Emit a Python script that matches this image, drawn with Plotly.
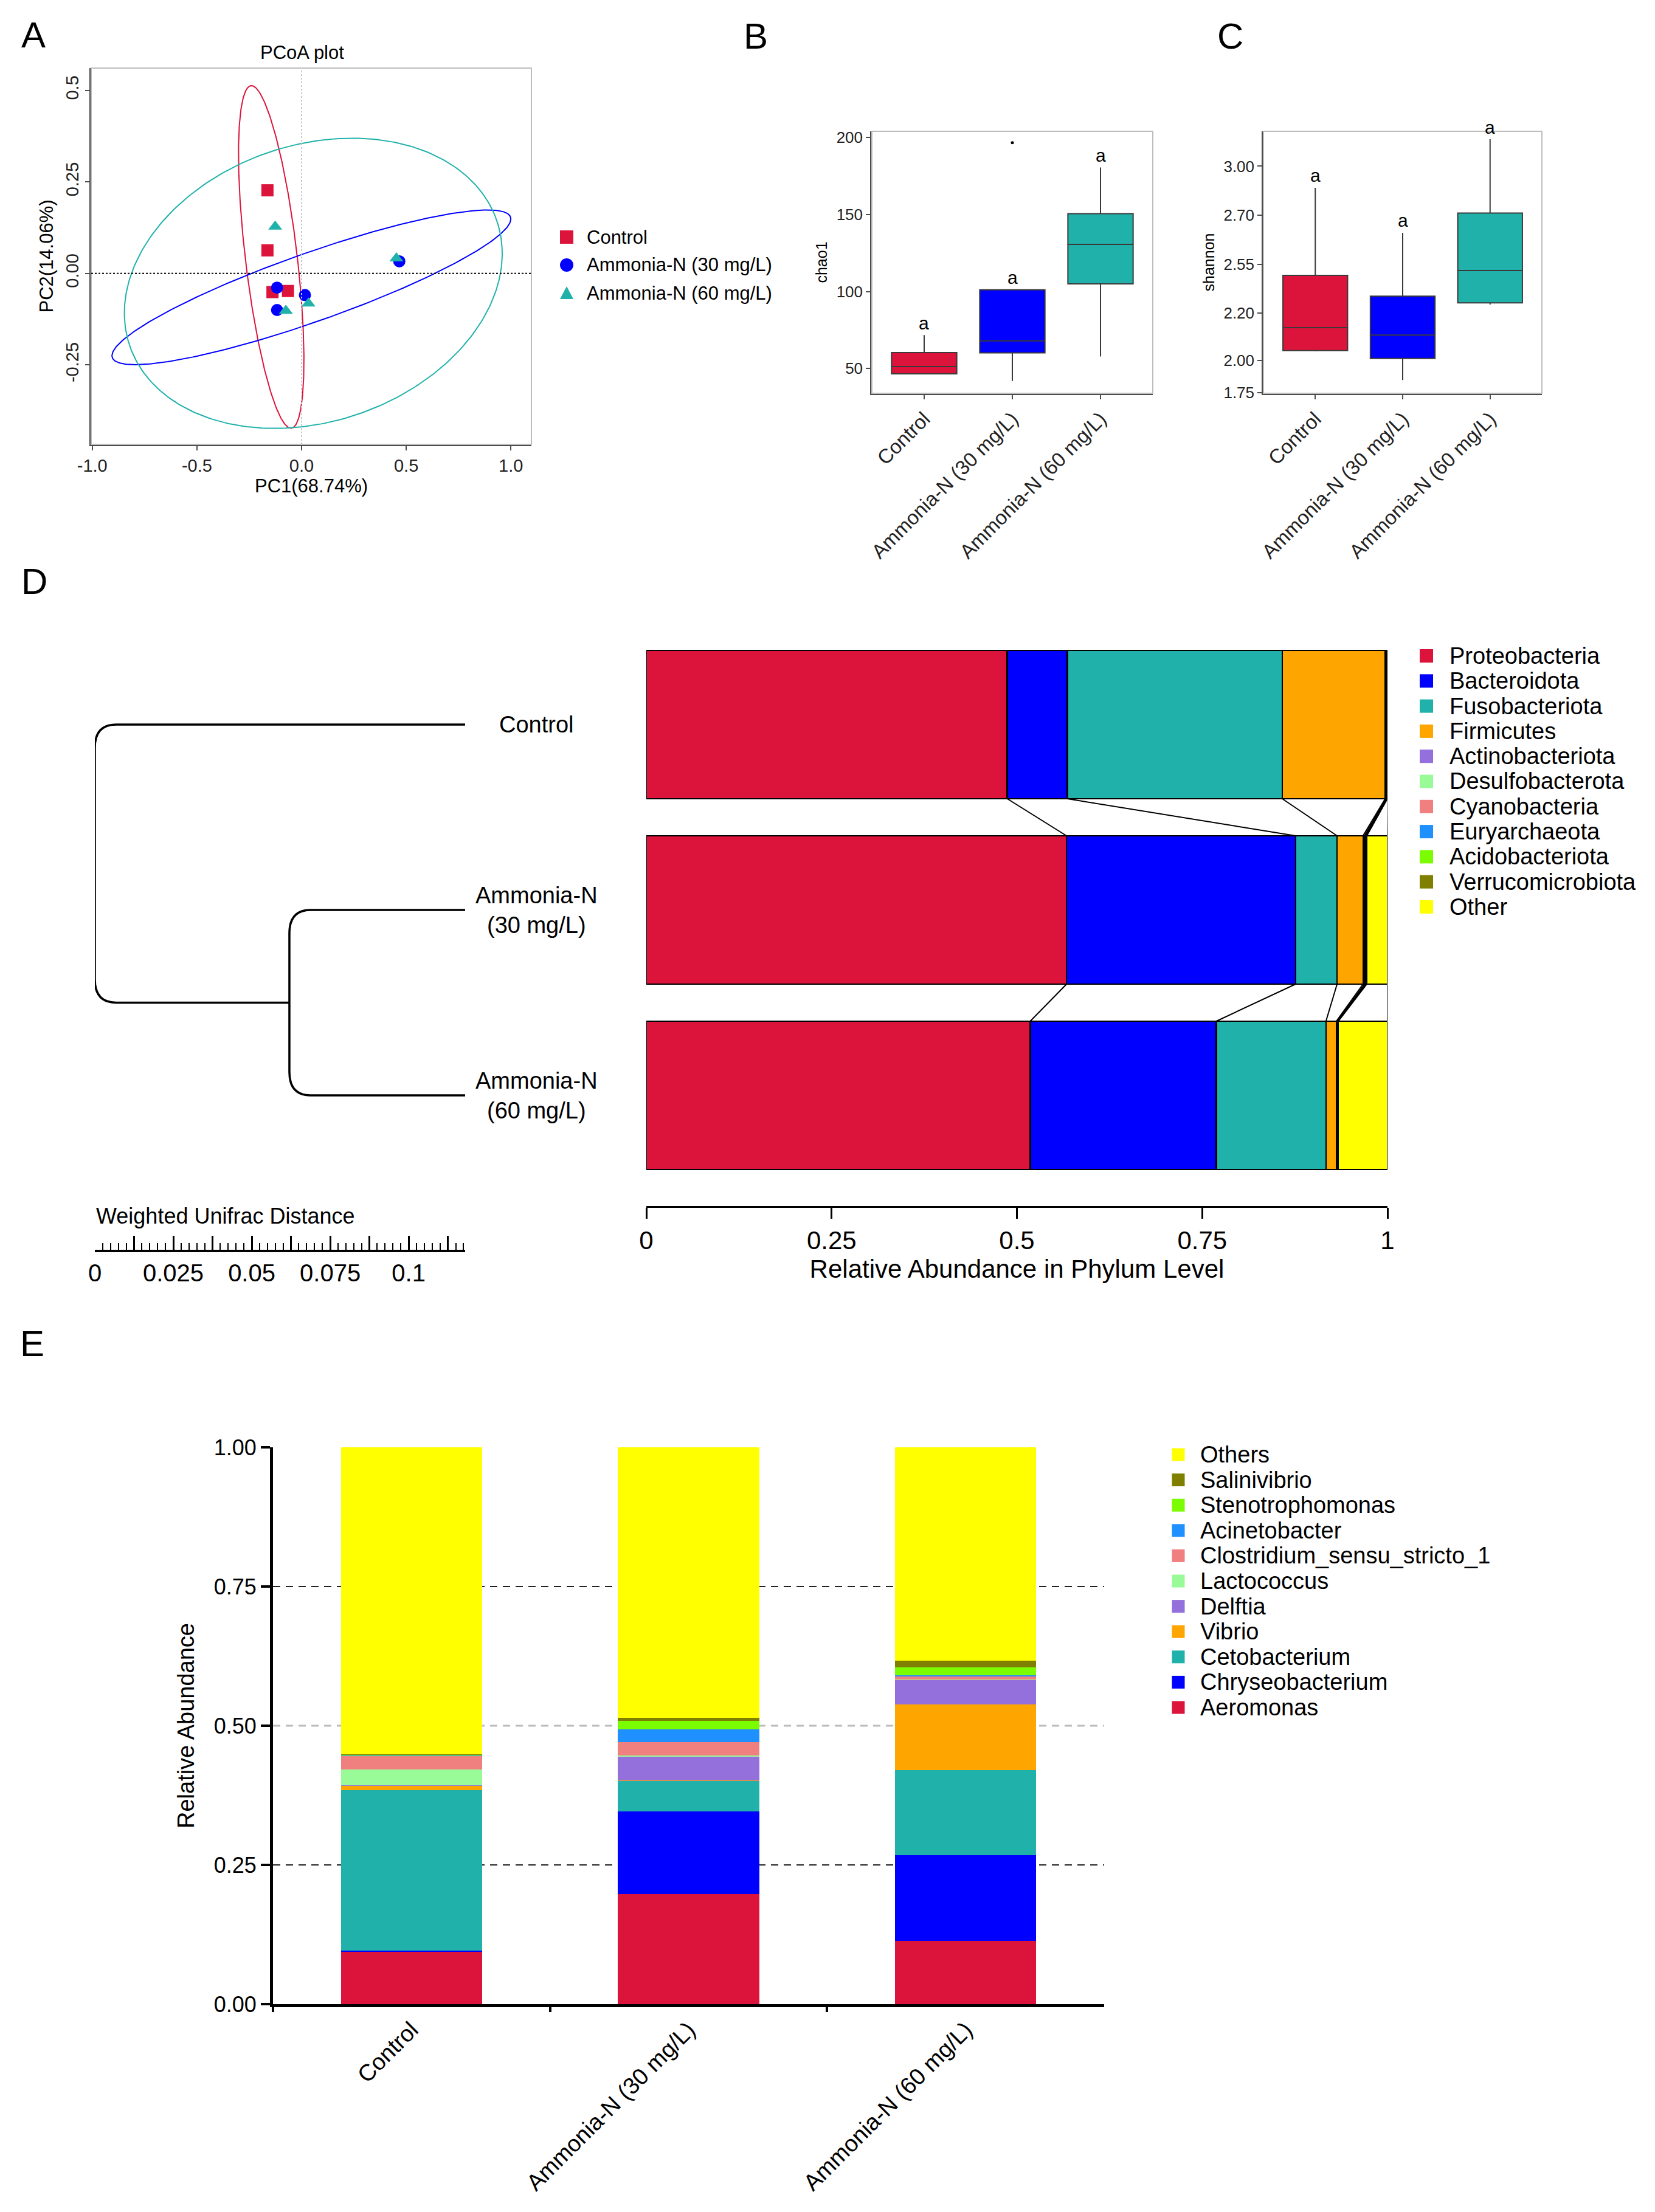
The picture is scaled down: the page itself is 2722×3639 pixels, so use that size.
import numpy as np
import plotly.graph_objects as go

W, H = 2722, 3639
FONT = "Liberation Sans, Arial, Helvetica, sans-serif"


def px_x(p):
    return p / W


def px_y(p):
    return 1 - p / H


def dom_x(a, b):
    return [a / W, b / W]


def dom_y(top, bottom):
    return [1 - bottom / H, 1 - top / H]


groups = ["Control", "Ammonia-N (30 mg/L)", "Ammonia-N (60 mg/L)"]
group_colors = ["#DC143C", "#0000FF", "#20B2AA"]

# ---- A: PCoA ----
pc1_control = [-0.163, -0.163, -0.139, -0.065]
pc2_control = [0.227, 0.063, -0.051, -0.048]
pc1_n30 = [-0.117, 0.016, -0.117, 0.467]
pc2_n30 = [-0.039, -0.059, -0.100, 0.033]
pc1_n60 = [-0.126, -0.075, 0.033, 0.453]
pc2_n60 = [0.128, -0.102, -0.082, 0.041]
# confidence ellipses: centre x, centre y, semi-axis a, semi-axis b, angle (deg)
ell_control = [-0.145, 0.045, 0.478, 0.122, 102.2]
ell_n30 = [0.047, -0.038, 0.971, 0.097, 11.2]
ell_n60 = [0.056, -0.027, 0.907, 0.386, 6.3]
pcoa_xticks = [-1.0, -0.5, 0.0, 0.5, 1.0]
pcoa_xlabels = ["-1.0", "-0.5", "0.0", "0.5", "1.0"]
pcoa_yticks = [-0.25, 0.0, 0.25, 0.5]
pcoa_ylabels = ["-0.25", "0.00", "0.25", "0.5"]

# ---- B: chao1 ----
chao1_q1 = [46.5, 60.1, 104.9]
chao1_median = [51.3, 67.9, 130.6]
chao1_q3 = [60.3, 101.1, 150.5]
chao1_low = [46.5, 41.9, 57.8]
chao1_high = [71.7, 101.1, 180.5]
chao1_outlier = [196.6]  # Ammonia-N (30 mg/L)
chao1_ticks = [50, 100, 150, 200]

# ---- C: shannon (axis labels as printed in the original) ----
shannon_q1 = [2.050, 2.009, 2.296]
shannon_median = [2.168, 2.130, 2.463]
shannon_q3 = [2.438, 2.330, 2.759]
shannon_low = [2.046, 1.898, 2.287]
shannon_high = [2.889, 2.657, 3.139]
shannon_tickvals = [1.834, 2.0, 2.245, 2.495, 2.747, 3.0]
shannon_ticktext = ["1.75", "2.00", "2.20", "2.55", "2.70", "3.00"]
sig_letters = ["a", "a", "a"]

# ---- D: phylum level ----
phyla = ["Proteobacteria", "Bacteroidota", "Fusobacteriota", "Firmicutes",
         "Actinobacteriota", "Desulfobacterota", "Cyanobacteria",
         "Euryarchaeota", "Acidobacteriota", "Verrucomicrobiota", "Other"]
phylum_control = [0.487, 0.081, 0.290, 0.139, 0.001, 0.0005, 0.0005, 0.0004, 0.0002, 0.0002, 0.0007]
phylum_n30 = [0.567, 0.309, 0.056, 0.035, 0.002, 0.001, 0.001, 0.0005, 0.0003, 0.0002, 0.028]
phylum_n60 = [0.518, 0.251, 0.148, 0.014, 0.001, 0.0005, 0.0005, 0.0003, 0.0002, 0.0001, 0.0664]
# dendrogram (weighted UniFrac): merge heights measured from the leaves
merge_n30_n60 = 0.056
merge_root = 0.118
scale_ticks = [0, 0.0125, 0.025, 0.0375, 0.05, 0.0625, 0.075, 0.0875, 0.1, 0.1125]
scale_labels = ["0", "", "0.025", "", "0.05", "", "0.075", "", "0.1", ""]
phylum_xticks = [0, 0.25, 0.5, 0.75, 1]
phylum_xlabels = ["0", "0.25", "0.5", "0.75", "1"]

# ---- E: genus level ----
genera = ["Aeromonas", "Chryseobacterium", "Cetobacterium", "Vibrio", "Delftia",
          "Lactococcus", "Clostridium_sensu_stricto_1", "Acinetobacter",
          "Stenotrophomonas", "Salinivibrio", "Others"]
genus_control = [0.094, 0.002, 0.288, 0.008, 0.001, 0.028, 0.025, 0.001, 0.001, 0.001, 0.551]
genus_n30 = [0.198, 0.148, 0.055, 0.001, 0.043, 0.001, 0.025, 0.023, 0.015, 0.005, 0.486]
genus_n60 = [0.114, 0.154, 0.152, 0.118, 0.044, 0.001, 0.005, 0.003, 0.014, 0.012, 0.383]
genus_yticks = [0, 0.25, 0.5, 0.75, 1.0]
genus_ylabels = ["0.00", "0.25", "0.50", "0.75", "1.00"]

taxa_colors = ["#DC143C", "#0000FF", "#20B2AA", "#FFA500", "#9370DB", "#98FB98",
               "#F08080", "#1E90FF", "#7CFC00", "#808000", "#FFFF00"]

fig = go.Figure()

# ================= A =================
ellipses = [ell_control, ell_n30, ell_n60]
t = np.linspace(0, 2 * np.pi, 300)
for col, (cx, cy, a, b, ang) in zip(group_colors, ellipses):
    th = np.radians(ang)
    ex = cx + a * np.cos(t) * np.cos(th) - b * np.sin(t) * np.sin(th)
    ey = cy + a * np.cos(t) * np.sin(th) + b * np.sin(t) * np.cos(th)
    fig.add_trace(go.Scatter(x=ex, y=ey, mode="lines", line=dict(color=col, width=2),
                             hoverinfo="skip", xaxis="x", yaxis="y"))

symbols = ["square", "circle", "triangle-up"]
pcoa_x = [pc1_control, pc1_n30, pc1_n60]
pcoa_y = [pc2_control, pc2_n30, pc2_n60]
for g, col, sym, xs, ys in zip(groups, group_colors, symbols, pcoa_x, pcoa_y):
    fig.add_trace(go.Scatter(x=xs, y=ys, mode="markers", name=g,
                             marker=dict(symbol=sym, color=col, size=20),
                             xaxis="x", yaxis="y"))

# ================= B & C =================
for i, g in enumerate(groups):
    fig.add_trace(go.Box(x=[g], q1=[chao1_q1[i]], median=[chao1_median[i]], q3=[chao1_q3[i]],
                         lowerfence=[chao1_low[i]], upperfence=[chao1_high[i]],
                         fillcolor=group_colors[i], line=dict(color="#3a3a3a", width=2),
                         width=0.74, whiskerwidth=0, boxpoints=False,
                         xaxis="x2", yaxis="y2"))
    fig.add_trace(go.Box(x=[g], q1=[shannon_q1[i]], median=[shannon_median[i]], q3=[shannon_q3[i]],
                         lowerfence=[shannon_low[i]], upperfence=[shannon_high[i]],
                         fillcolor=group_colors[i], line=dict(color="#3a3a3a", width=2),
                         width=0.74, whiskerwidth=0, boxpoints=False,
                         xaxis="x3", yaxis="y3"))
fig.add_trace(go.Scatter(x=[groups[1]], y=chao1_outlier, mode="markers",
                         marker=dict(color="black", size=5), xaxis="x2", yaxis="y2"))

annotations = []
for i, g in enumerate(groups):
    annotations.append(dict(x=g, y=chao1_high[i], xref="x2", yref="y2", text=sig_letters[i],
                            showarrow=False, yshift=20, yanchor="middle",
                            font=dict(size=30, color="black")))
    annotations.append(dict(x=g, y=shannon_high[i], xref="x3", yref="y3", text=sig_letters[i],
                            showarrow=False, yshift=20, yanchor="middle",
                            font=dict(size=30, color="black")))

# ================= D: dendrogram =================
leaf_x = merge_root
sub_x = merge_root - merge_n30_n60
root_x = 0.0
y_sub = (1 + 2) / 2
rx, ry = 0.0068, 0.125
dendro_paths = [
    f"M {leaf_x},0 L {root_x + rx},0 Q {root_x},0 {root_x},{ry} "
    f"L {root_x},{y_sub - ry} Q {root_x},{y_sub} {root_x + rx},{y_sub} L {sub_x},{y_sub}",
    f"M {leaf_x},1 L {sub_x + rx},1 Q {sub_x},1 {sub_x},{1 + ry} "
    f"L {sub_x},{2 - ry} Q {sub_x},2 {sub_x + rx},2 L {leaf_x},2",
]
shapes = []
for p in dendro_paths:
    shapes.append(dict(type="path", path=p, xref="x4", yref="y4",
                       line=dict(color="black", width=3.5)))
# invisible trace so the dendrogram axes are drawn
fig.add_trace(go.Scatter(x=[root_x, leaf_x], y=[0, 2], mode="markers",
                         marker=dict(opacity=0), hoverinfo="skip", xaxis="x4", yaxis="y4"))

for i, g in enumerate(groups):
    annotations.append(dict(x=px_x(882), y=i, xref="paper", yref="y4",
                            text=g.replace(" (", "<br>("), showarrow=False, align="center",
                            xanchor="center", yanchor="middle",
                            font=dict(size=38, color="black")))

# ================= D: phylum bars =================
phylum_data = [phylum_control, phylum_n30, phylum_n60]
phylum_arr = np.array(phylum_data)
for k, ph in enumerate(phyla):
    fig.add_trace(go.Bar(x=phylum_arr[:, k], y=[0, 1, 2], orientation="h", name=ph,
                         marker=dict(color=taxa_colors[k], line=dict(color="black", width=2.5)),
                         width=0.8, xaxis="x5", yaxis="y5"))
cum = np.cumsum(phylum_arr, axis=1)
cx_, cy_ = [], []
for i in range(len(groups) - 1):
    for k in range(len(phyla)):
        cx_ += [cum[i, k], cum[i + 1, k], None]
        cy_ += [i + 0.4, i + 1 - 0.4, None]
fig.add_trace(go.Scatter(x=cx_, y=cy_, mode="lines", line=dict(color="black", width=2),
                         hoverinfo="skip", xaxis="x5", yaxis="y5"))

# ================= E: genus bars =================
genus_data = [genus_control, genus_n30, genus_n60]
genus_arr = np.array(genus_data)
for k, gn in enumerate(genera):
    fig.add_trace(go.Bar(x=groups, y=genus_arr[:, k], name=gn,
                         marker=dict(color=taxa_colors[k], line=dict(width=0)),
                         width=0.51, xaxis="x6", yaxis="y6"))

for yv, col, wd in [(0.25, "#222222", 2), (0.5, "#BBBBBB", 3), (0.75, "#222222", 2)]:
    shapes.append(dict(type="line", xref="x6 domain", x0=0, x1=1, yref="y6", y0=yv, y1=yv,
                       line=dict(color=col, width=wd, dash="12px,9px"), layer="below"))

# ---- borders and reference lines ----
for ax in ["", "2", "3"]:
    shapes.append(dict(type="rect", xref=f"x{ax} domain", yref=f"y{ax} domain",
                       x0=0, x1=1, y0=0, y1=1, line=dict(color="#BDBDBD", width=2)))
shapes.append(dict(type="line", xref="x domain", x0=0, x1=1, yref="y", y0=0, y1=0,
                   line=dict(color="black", width=2, dash="dot")))
shapes.append(dict(type="line", xref="x", x0=0, x1=0, yref="y domain", y0=0, y1=1,
                   line=dict(color="#C8C8C8", width=2, dash="dot")))


# ---- manual legends ----
def legend_entry(xc, yc, size, color, symbol, label, text_x, fsize):
    h = size / 2
    if symbol == "circle":
        shapes.append(dict(type="circle", xref="paper", yref="paper",
                           x0=px_x(xc - h), x1=px_x(xc + h), y0=px_y(yc + h), y1=px_y(yc - h),
                           fillcolor=color, line=dict(width=0)))
    elif symbol == "triangle-up":
        path = (f"M {px_x(xc - h)},{px_y(yc + h * 0.9)} L {px_x(xc + h)},{px_y(yc + h * 0.9)} "
                f"L {px_x(xc)},{px_y(yc - h * 1.0)} Z")
        shapes.append(dict(type="path", xref="paper", yref="paper", path=path,
                           fillcolor=color, line=dict(width=0)))
    else:
        shapes.append(dict(type="rect", xref="paper", yref="paper",
                           x0=px_x(xc - h), x1=px_x(xc + h), y0=px_y(yc + h), y1=px_y(yc - h),
                           fillcolor=color, line=dict(width=0)))
    annotations.append(dict(x=px_x(text_x), y=px_y(yc), xref="paper", yref="paper",
                            text=label, showarrow=False, xanchor="left", yanchor="middle",
                            font=dict(size=fsize, color="black")))


for i, g in enumerate(groups):
    legend_entry(932, 390 + i * 46, 22, group_colors[i], symbols[i], g, 963, 31)
for i, ph in enumerate(phyla):
    legend_entry(2346, 1079 + i * 41.3, 22, taxa_colors[i], "square", ph, 2382, 38)
for i, gn in enumerate(reversed(genera)):
    k = len(genera) - 1 - i
    legend_entry(1938, 2393 + i * 41.6, 21, taxa_colors[k], "square", gn, 1972, 38)

# ---- panel letters and titles ----
for letter, x, y in [("A", 55, 57), ("B", 1243, 59), ("C", 2023, 59), ("D", 56, 956), ("E", 53, 2210)]:
    annotations.append(dict(x=px_x(x), y=px_y(y), xref="paper", yref="paper", text=letter,
                            showarrow=False, xanchor="center", yanchor="middle",
                            font=dict(size=60, color="black")))
annotations.append(dict(x=px_x(497), y=px_y(87), xref="paper", yref="paper", text="PCoA plot",
                        showarrow=False, xanchor="center", yanchor="middle",
                        font=dict(size=31, color="black")))
annotations.append(dict(x=px_x(156), y=px_y(2000), xref="paper", yref="paper",
                        text="Weighted Unifrac Distance", showarrow=False, xanchor="left",
                        yanchor="middle", font=dict(size=36, color="black")))

gg_axis = dict(showline=True, linecolor="#4D4D4D", linewidth=2.5, ticks="outside",
               ticklen=7, tickwidth=2, tickcolor="#4D4D4D", showgrid=False, zeroline=False,
               automargin=False)

fig.update_layout(
    width=W, height=H, margin=dict(l=0, r=0, t=0, b=0, autoexpand=False),
    paper_bgcolor="white", plot_bgcolor="white", showlegend=False,
    font=dict(family=FONT, color="black"),
    barmode="stack", boxmode="overlay",
    # A
    xaxis=dict(domain=dom_x(150, 874), range=[-1.005, 1.098], tickvals=pcoa_xticks,
               ticktext=pcoa_xlabels, tickfont=dict(size=29, color="#222"),
               title=dict(text="PC1(68.74%)", font=dict(size=31), standoff=6), anchor="y", **gg_axis),
    yaxis=dict(domain=dom_y(112, 731), range=[-0.467, 0.561], tickvals=pcoa_yticks,
               ticktext=pcoa_ylabels, tickangle=-90, tickfont=dict(size=29, color="#222"),
               title=dict(text="PC2(14.06%)", font=dict(size=31), standoff=6), anchor="x", **gg_axis),
    # B
    xaxis2=dict(domain=dom_x(1434, 1896), type="category", categoryarray=groups,
                range=[-0.593, 2.593], tickangle=-45, tickfont=dict(size=33, color="#222"),
                anchor="y2", **gg_axis),
    yaxis2=dict(domain=dom_y(216, 647), range=[33.9, 204], tickvals=chao1_ticks,
                tickfont=dict(size=26, color="#222"),
                title=dict(text="chao1", font=dict(size=25), standoff=8), anchor="x2", **gg_axis),
    # C
    xaxis3=dict(domain=dom_x(2078, 2536), type="category", categoryarray=groups,
                range=[-0.593, 2.593], tickangle=-45, tickfont=dict(size=33, color="#222"),
                anchor="y3", **gg_axis),
    yaxis3=dict(domain=dom_y(216, 647), range=[1.830, 3.18], tickvals=shannon_tickvals,
                ticktext=shannon_ticktext, tickfont=dict(size=26, color="#222"),
                title=dict(text="shannon", font=dict(size=25), standoff=8), anchor="x3", **gg_axis),
    # D dendrogram + scale
    xaxis4=dict(domain=dom_x(156, 765), range=[0, merge_root], tickvals=scale_ticks,
                ticktext=scale_labels, showline=True, linecolor="black", linewidth=3.5,
                ticks="inside", ticklen=23, tickwidth=2.5, tickcolor="black",
                minor=dict(ticks="inside", dtick=0.0025, tick0=0, ticklen=11, tickwidth=2,
                           tickcolor="black", showgrid=False),
                tickfont=dict(size=40), showgrid=False, zeroline=False, anchor="y4",
                automargin=False),
    yaxis4=dict(domain=dom_y(1039.5, 2056), range=[2 + (2056 - 1802) / 305, -0.5],
                visible=False, anchor="x4", automargin=False),
    # D bars
    xaxis5=dict(domain=dom_x(1063, 2282), range=[0, 1], tickvals=phylum_xticks,
                ticktext=phylum_xlabels, showline=True, linecolor="black", linewidth=3,
                ticks="outside", ticklen=18, tickwidth=3, tickcolor="black",
                tickfont=dict(size=42), showgrid=False, zeroline=False,
                title=dict(text="Relative Abundance in Phylum Level", font=dict(size=42), standoff=4),
                anchor="y5", automargin=False),
    yaxis5=dict(domain=dom_y(1039.5, 1984), range=[2 + (1984 - 1802) / 305, -0.5],
                visible=False, anchor="x5", automargin=False),
    # E
    xaxis6=dict(domain=dom_x(449, 1816), type="category", categoryarray=groups,
                range=[-0.5, 2.5], tickson="boundaries", ticks="outside", ticklen=8,
                tickwidth=4, tickcolor="black", showline=True, linecolor="black", linewidth=5,
                tickangle=-45, tickfont=dict(size=38), showgrid=False, zeroline=False,
                anchor="y6", automargin=False),
    yaxis6=dict(domain=dom_y(2381, 3297), range=[0, 1], tickvals=genus_yticks,
                ticktext=genus_ylabels, ticks="outside", ticklen=15, tickwidth=4,
                tickcolor="black", showline=True, linecolor="black", linewidth=5,
                tickfont=dict(size=36), showgrid=False, zeroline=False,
                title=dict(text="Relative Abundance", font=dict(size=38), standoff=22),
                anchor="x6", automargin=False),
    shapes=shapes,
    annotations=annotations,
)

# the page's default body margin would shift the figure away from the corner
fig.write_html("out.html", config={"displayModeBar": False},
               post_script="document.body.style.margin='0';")
